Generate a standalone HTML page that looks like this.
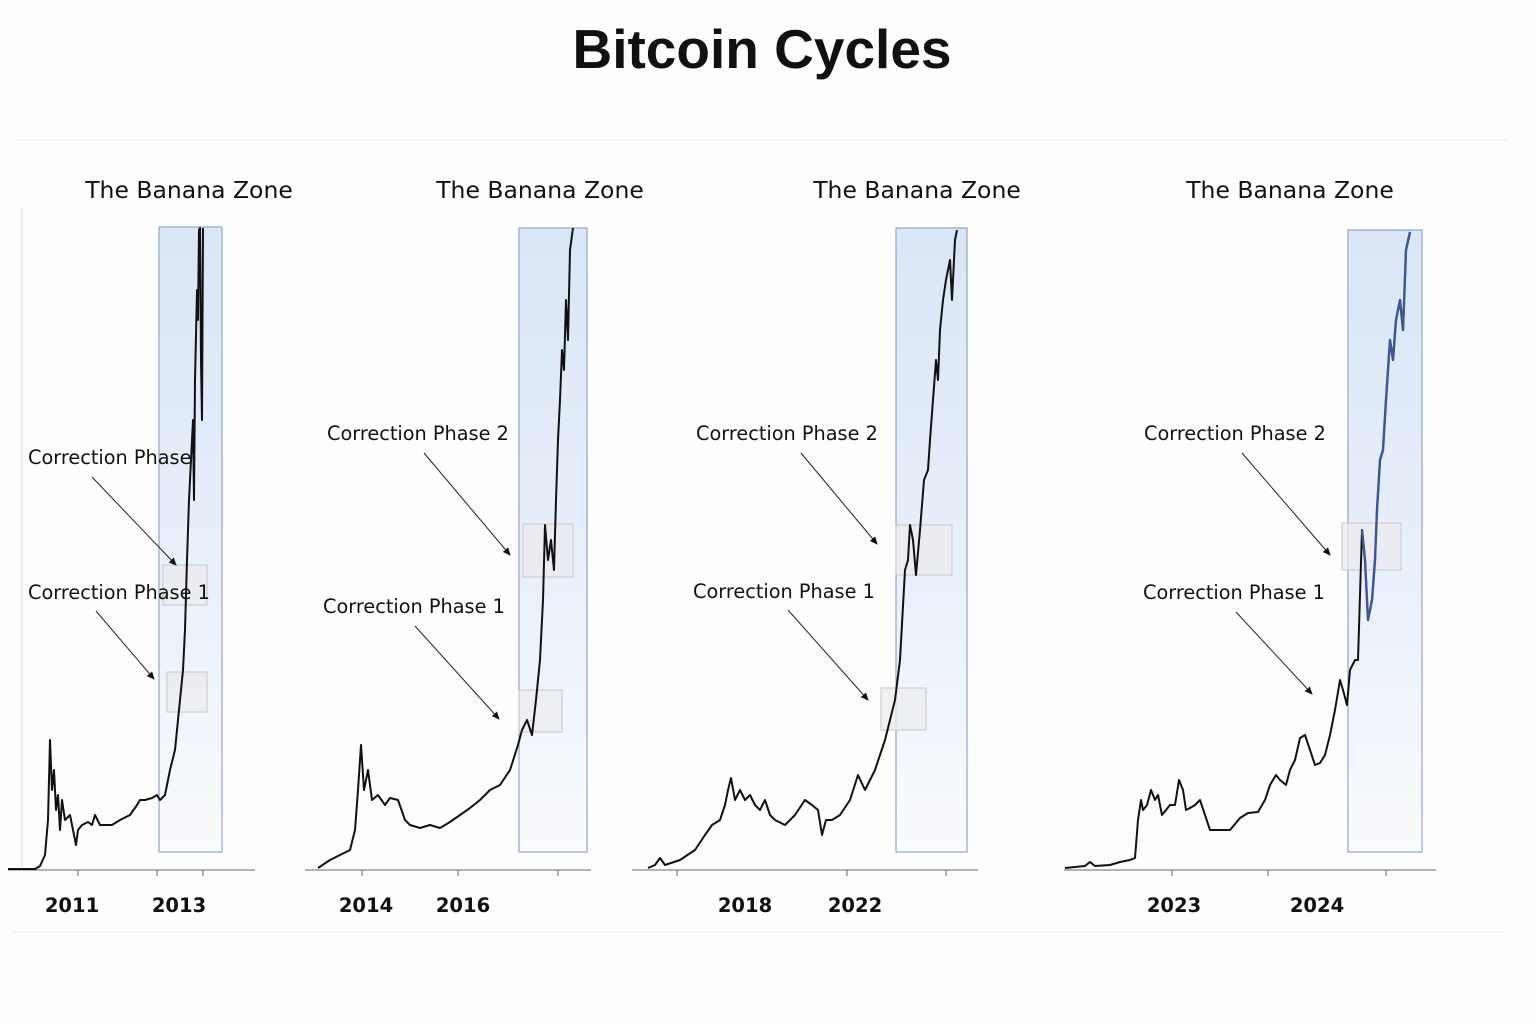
<!DOCTYPE html>
<html><head><meta charset="utf-8"><style>
html,body{margin:0;padding:0;background:#fdfdfd;width:1536px;height:1024px;overflow:hidden}
svg{display:block}
text{font-family:"DejaVu Sans","Liberation Sans",sans-serif;fill:#111}
</style></head><body>
<svg id="chart" width="1536" height="1024" viewBox="0 0 1536 1024">
<defs>
<linearGradient id="zoneGrad" x1="0" y1="0" x2="0" y2="1">
<stop offset="0" stop-color="#d9e6f5"/><stop offset="0.6" stop-color="#eaf1fa"/><stop offset="1" stop-color="#fafbfd"/>
</linearGradient>
<marker id="arr" markerWidth="8" markerHeight="8" refX="7" refY="4" orient="auto"><path d="M0,0.5 L8,4 L0,7.5 Z" fill="#111"/></marker>
</defs>
<text x="762" y="68" text-anchor="middle" font-size="55" font-weight="bold" style="font-family:'Liberation Sans',sans-serif">Bitcoin Cycles</text>
<line x1="15" y1="140" x2="1508" y2="140" stroke="#eee"/>
<line x1="12" y1="932" x2="1502" y2="932" stroke="#eee"/>
<g id="panels"></g>
</svg>
<script>
// Panel 1 (2010-2014)
const p1Times=[0,27,32,37,40,42,44,46,48,50,52,54,57,62,65,68,70,74,80,84,87,92,97,104,112,122,129,132,137,144,149,152,157,162,167,170,172,175,177,179,181,183,185,186,187,189,190,191,192,193,194,195];
const p1Prices=[1,1,4,15,50,130,80,100,60,75,40,70,50,55,40,25,40,45,48,45,55,45,45,45,50,55,65,70,70,72,75,70,75,100,120,150,170,200,240,310,370,410,450,370,490,580,550,640,642,510,450,642];
// Panel 2 (2013-2018)
const p2Times=[0,12,22,32,37,40,43,46,50,54,60,67,72,80,87,92,102,112,122,132,142,152,162,172,182,192,200,204,209,214,218,222,225,227,230,233,236,238,240,242,244,246,248,250,252,255];
const p2Prices=[2,10,15,20,40,80,125,80,100,70,75,65,72,70,50,45,42,45,42,48,55,62,70,80,85,100,125,140,150,135,170,210,270,345,310,330,300,370,430,470,520,500,570,530,620,642];
// Panel 3 (2017-2022)
const p3Times=[0,7,12,17,32,47,57,64,72,77,80,83,87,92,97,102,107,112,117,122,127,137,147,157,164,170,174,178,184,192,202,210,217,227,232,237,242,247,252,257,260,262,265,268,272,276,280,282,285,288,290,292,295,298,302,304,307,309];
const p3Prices=[2,5,12,5,10,20,35,45,50,65,80,92,70,80,70,75,65,60,70,55,50,45,55,70,65,60,35,50,50,55,70,95,80,100,115,130,150,170,210,300,310,345,330,295,340,390,400,430,470,510,490,540,570,590,610,570,630,640];
// Panel 4 (2022-2024)
const p4Times=[0,20,25,30,45,55,65,70,73,76,78,82,86,90,93,97,101,105,110,114,118,121,125,130,135,140,145,155,165,175,183,193,200,205,211,215,221,225,230,235,240,245,250,255,260,265,270,275,278,282,285,290,293,297,300,303,307,310,312,315,318,321,325,328,331,335,338,341,345];
const p4Prices=[2,4,8,4,5,8,10,12,50,70,60,65,80,70,75,55,60,65,65,90,80,60,62,65,70,55,40,40,40,52,57,58,70,85,95,90,85,100,110,132,135,120,105,107,115,135,160,190,180,165,200,210,210,340,310,250,270,310,360,410,420,470,530,510,550,570,540,620,638];
const yearLabels1=["2011","2013"],yearLabels2=["2014","2016"],yearLabels3=["2018","2022"],yearLabels4=["2023","2024"];

const panels=[
 {t:p1Times,v:p1Prices,x0:8,x1:203,title:"The Banana Zone",tx:189,axis:[8,255],ticks:[78,157,203],labels:yearLabels1,lx:[72,179],
  zone:[159,227,63,625],boxes:[[163,565,44,40],[167,672,40,40]],vline:true,
  ann:[["Correction Phase",28,464,92,477,176,565],["Correction Phase 1",28,599,96,611,154,679]]},
 {t:p2Times,v:p2Prices,x0:318,x1:573,title:"The Banana Zone",tx:540,axis:[305,591],ticks:[362,458,558],labels:yearLabels2,lx:[366,463],
  zone:[519,228,68,624],boxes:[[523,524,50,53],[519,690,43,42]],
  ann:[["Correction Phase 2",327,440,424,453,510,555],["Correction Phase 1",323,613,415,626,499,719]]},
 {t:p3Times,v:p3Prices,x0:648,x1:957,title:"The Banana Zone",tx:917,axis:[632,978],ticks:[677,847,946],labels:yearLabels3,lx:[745,855],
  zone:[896,228,71,624],boxes:[[896,525,56,50],[881,688,45,42]],
  ann:[["Correction Phase 2",696,440,801,453,877,544],["Correction Phase 1",693,598,788,610,868,700]]},
 {t:p4Times,v:p4Prices,x0:1065,x1:1410,title:"The Banana Zone",tx:1290,axis:[1064,1436],ticks:[1172,1268,1386],labels:yearLabels4,lx:[1174,1317],
  zone:[1348,230,74,622],boxes:[[1342,523,59,47]],blueFrom:297,
  ann:[["Correction Phase 2",1144,440,1242,453,1330,555],["Correction Phase 1",1143,599,1236,612,1312,694]]}
];
const NS="http://www.w3.org/2000/svg";
const root=document.getElementById('panels');
function mk(tag,attrs,parent){const e=document.createElementNS(NS,tag);for(const k in attrs)e.setAttribute(k,attrs[k]);(parent||root).appendChild(e);return e;}
const baseY=870,topY=228,vMax=642;
panels.forEach((p,i)=>{
 const g=mk('g',{});
 
 
 const tMax=p.t[p.t.length-1];
 const xS=t=>p.x0+t/tMax*(p.x1-p.x0);
 const yS=v=>baseY-v/vMax*(baseY-topY);
 const z=mk('rect',{x:p.zone[0],y:p.zone[1],width:p.zone[2],height:p.zone[3],fill:'url(#zoneGrad)',stroke:'#93a6c9','stroke-width':1.2},g);
 
 
 p.boxes.forEach(b=>{
  const r=mk('rect',{x:b[0],y:b[1],width:b[2],height:b[3],fill:'rgba(235,235,238,0.75)',stroke:'#c8c8cc','stroke-width':1},g);
  
  
 });
 if(p.vline){const vl=mk('line',{x1:22,y1:208,x2:22,y2:870,stroke:'#d6dae6'},g);
  
  }
 const ax=mk('line',{x1:p.axis[0],y1:870,x2:p.axis[1],y2:870,stroke:'#666','stroke-width':1},g);
 
 
 p.ticks.forEach(tx=>{const tk=mk('line',{x1:tx,y1:870,x2:tx,y2:876,stroke:'#666'},g);
  
  });
 p.labels.forEach((l,j)=>{const tl=mk('text',{x:p.lx[j],y:912,'text-anchor':'middle','font-size':19.5,'font-weight':'bold'},g);tl.textContent=l;
  
  });
 const pt=mk('text',{x:p.tx,y:198,'text-anchor':'middle','font-size':23.5},g);pt.textContent=p.title;
 
 
 let d='';p.t.forEach((t,k)=>{d+=(k?'L':'M')+xS(t).toFixed(1)+','+yS(p.v[k]).toFixed(1);});
 const ln=mk('path',{d:d,fill:'none',stroke:'#111','stroke-width':2,'stroke-linejoin':'round'},g);
 
 
 if(p.blueFrom!==undefined){
  let d2='',first=true;p.t.forEach((t,k)=>{if(t>=p.blueFrom){d2+=(first?'M':'L')+xS(t).toFixed(1)+','+yS(p.v[k]).toFixed(1);first=false;}});
  const bl=mk('path',{d:d2,fill:'none',stroke:'#3e5597','stroke-width':2.4,'stroke-linejoin':'round'},g);
  
  
 }
 p.ann.forEach(a=>{
  const at=mk('text',{x:a[1],y:a[2],'font-size':19.3},g);at.textContent=a[0];
  
  
  const al=mk('line',{x1:a[3],y1:a[4],x2:a[5],y2:a[6],stroke:'#222','stroke-width':1,'marker-end':'url(#arr)'},g);
  
  
 });
});
</script>
</body></html>
